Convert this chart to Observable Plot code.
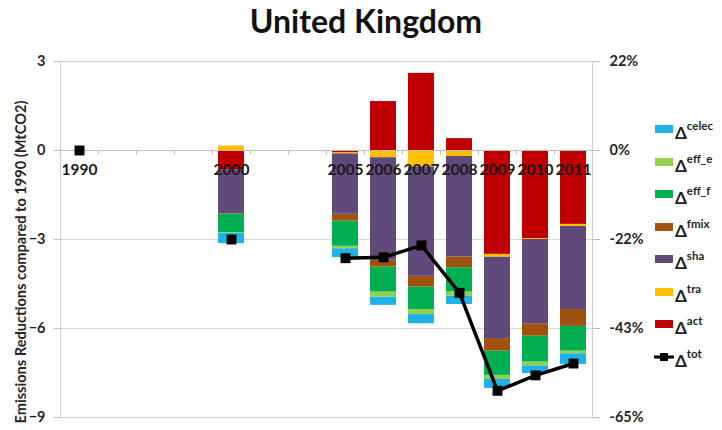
<!DOCTYPE html>
<html><head><meta charset="utf-8">
<script src="https://cdn.jsdelivr.net/npm/d3@7"></script>
<script src="https://cdn.jsdelivr.net/npm/@observablehq/plot@0.6"></script>
<style>
body{margin:0;background:#fff;}
#wrap{position:relative;width:722px;height:430px;overflow:hidden;font-family:Lato,"Open Sans",sans-serif;color:#1f1f1f;}
#title{position:absolute;left:5px;width:722px;top:2px;text-align:center;font-weight:bold;font-size:32px;line-height:38px;color:#111;}
#ylab{position:absolute;left:20px;top:262px;transform:translate(-50%,-50%) rotate(-90deg);white-space:nowrap;font-weight:bold;font-size:14.6px;color:#262626;}
#chart svg text{font-weight:bold;}
.lg{position:absolute;left:653px;height:20px;white-space:nowrap;}
.sw{position:absolute;left:2px;top:7px;width:18px;height:8px;}
.dl{position:absolute;left:22px;top:0;font-weight:bold;font-size:17px;line-height:20px;color:#1f1f1f;}
.dl sup{font-size:11.5px;position:relative;top:-2px;}
</style></head>
<body><div id="wrap"><div id="chart"></div><div id="title">United Kingdom</div><div id="ylab">Emissions Reductions compared to 1990 (MtCO2)</div></div>
<script>
// category slots along the x axis (Excel category axis with empty slots)
const slots = ["1990","s1","s2","s3","2000","s4","s5","2005","2006","2007","2008","2009","2010","2011"];
const years = ["1990","2000","2005","2006","2007","2008","2009","2010","2011"];
// components (MtCO2)
const celec = [0, -0.35, -0.30, -0.28, -0.31, -0.27, -0.30, -0.26, -0.36];
const eff_e = [0, -0.02, -0.08, -0.17, -0.17, -0.15, -0.14, -0.13, -0.09];
const eff_f = [0, -0.62, -0.85, -0.84, -0.76, -0.82, -0.82, -0.87, -0.83];
const fmix  = [0, -0.02, -0.23, -0.23, -0.36, -0.36, -0.42, -0.42, -0.57];
const sha   = [0, -1.48, -2.04, -3.46, -3.69, -3.39, -2.75, -2.84, -2.80];
const tra   = [0,  0.15, -0.04, -0.24, -0.55, -0.20, -0.09, -0.03, -0.07];
const act   = [0, -0.65, -0.07,  1.65,  2.60,  0.40, -3.50, -2.97, -2.49];
const tot   = [0, -3.00, -3.63, -3.60, -3.20, -4.80, -8.10, -7.58, -7.18];
// axis ticks
const yTicks = [3, 0, -3, -6, -9];
const pctLabels = ["22%", "0%", "-22%", "-43%", "-65%"];

const compNames = ["celec","eff_e","eff_f","fmix","sha","tra","act"];
const compColors = ["#1fb2e6","#92d050","#00b050","#a0520f","#604a7b","#ffc000","#c00000"];
const compValues = {celec, eff_e, eff_f, fmix, sha, tra, act};
const stackOrder = ["act","tra","sha","fmix","eff_f","eff_e","celec"];

const rows = [];
for (const c of compNames) years.forEach((yr, i) => rows.push({slot: yr, comp: c, value: compValues[c][i]}));
const totRows = years.map((yr, i) => ({slot: yr, tot: tot[i]}));
const lineRows = totRows.filter(d => +d.slot >= 2005);
const labelYears = years.map(y => ({slot: y, text: y}));

const chart = Plot.plot({
  width: 722, height: 430,
  marginLeft: 60, marginRight: 130, marginTop: 61, marginBottom: 13,
  style: {fontFamily: "Lato, 'Open Sans', sans-serif", background: "transparent", overflow: "visible"},
  x: {type: "band", domain: slots, paddingInner: 0.32, paddingOuter: 0.16, axis: null},
  y: {domain: [-9, 3], axis: null},
  color: {domain: compNames, range: compColors},
  marks: [
    Plot.ruleY(yTicks, {stroke: "#d9d9d9"}),
    Plot.frame({stroke: "#d0d0d0"}),
    Plot.barY(rows, {x: "slot", y: "value", fill: "comp", z: "comp", order: stackOrder}),
    Plot.ruleY([0], {stroke: "#bdbdbd"}),
    Plot.ruleX(slots, {x: d => d, y1: 0, y2: -0.15, dx: -19, stroke: "#bdbdbd"}),
    Plot.text(labelYears, {x: "slot", y: 0, text: "text", dy: 20, fontSize: 15.5, fill: "#1a1a1a"}),
    Plot.line(lineRows, {x: "slot", y: "tot", stroke: "black", strokeWidth: 3.5}),
    Plot.dot(totRows, {x: "slot", y: "tot", symbol: "square", r: 5.6, fill: "black"}),
    Plot.axisY({ticks: yTicks, anchor: "left", tickSize: 6, tickPadding: 9, fontSize: 14.5, stroke: "#bdbdbd", fill: "#262626", label: null}),
    Plot.axisY({ticks: yTicks, anchor: "right", tickSize: 7, tickPadding: 10, fontSize: 14.5, stroke: "#bdbdbd", fill: "#262626", label: null,
      tickFormat: d => pctLabels[yTicks.indexOf(d)]})
  ]
});
document.getElementById("chart").appendChild(chart);

// legend
const legendLabels = ["celec","eff_e","eff_f","fmix","sha","tra","act","tot"];
const wrap = document.getElementById("wrap");
legendLabels.forEach((lab, i) => {
  const row = document.createElement("div");
  row.className = "lg";
  row.style.top = (118 + i * 32.5) + "px";
  if (lab === "tot") {
    row.innerHTML = '<svg width="22" height="20" style="position:absolute;left:0;top:0"><line x1="1" x2="21" y1="11" y2="11" stroke="black" stroke-width="3"/><rect x="7" y="7" width="8" height="8" fill="black"/></svg>';
  } else {
    const sw = document.createElement("div");
    sw.className = "sw";
    sw.style.background = compColors[compNames.indexOf(lab)];
    row.appendChild(sw);
  }
  const t = document.createElement("div");
  t.className = "dl";
  t.innerHTML = "Δ<sup>" + lab + "</sup>";
  row.appendChild(t);
  wrap.appendChild(row);
});
</script>
</body></html>
